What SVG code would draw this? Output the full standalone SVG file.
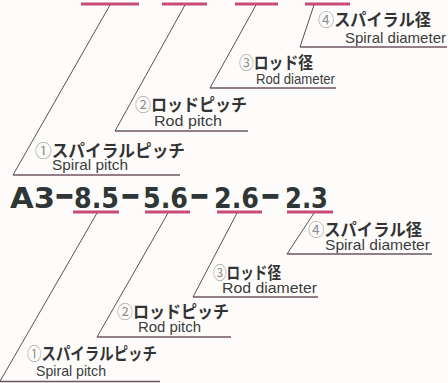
<svg xmlns="http://www.w3.org/2000/svg" width="448" height="383" viewBox="0 0 448 383">
<style>
.bg{fill:#fdfcfb}
.bar{stroke:#c94b76;stroke-width:3;fill:none}
.lead{stroke:#555;stroke-width:1;fill:none}
.ul{stroke:#6e5660;stroke-width:1.3;fill:none}
.jp{font-family:"Noto Sans CJK JP","Noto Sans",sans-serif;font-size:17px;font-weight:bold;fill:#333}
.num{fill:#909090;font-weight:normal}
.en{font-family:"Liberation Sans",Arial,sans-serif;font-size:15px;fill:#3c3c3c}
.code{font-family:"DejaVu Sans","Liberation Sans",sans-serif;font-size:28px;font-weight:bold;fill:#2e3735}
.dash{font-family:"DejaVu Sans","Liberation Sans",sans-serif;font-size:40px;font-weight:bold;fill:#2e3735}
</style>
<rect class="bg" x="0" y="0" width="448" height="383"/>

<g id="top-bars">
<line class="bar" x1="81" y1="4" x2="139" y2="4"/>
<line class="bar" x1="162" y1="4" x2="207" y2="4"/>
<line class="bar" x1="235" y1="4" x2="278" y2="4"/>
<line class="bar" x1="305" y1="4" x2="350" y2="4"/>
</g>

<g id="connectors">
<line class="lead" x1="110" y1="5" x2="13" y2="175"/>
<line class="ul" x1="13" y1="175" x2="180" y2="175"/>
<line class="lead" x1="185" y1="5" x2="115" y2="131"/>
<line class="ul" x1="115" y1="131" x2="248" y2="131"/>
<line class="lead" x1="256" y1="5" x2="210" y2="88"/>
<line class="ul" x1="210" y1="88" x2="336" y2="88"/>
<line class="lead" x1="314" y1="5" x2="300" y2="47"/>
<line class="ul" x1="300" y1="47" x2="447" y2="47"/>
<line class="lead" x1="97" y1="213" x2="-1" y2="383"/>
<line class="ul" x1="0" y1="381.5" x2="160" y2="381.5"/>
<line class="lead" x1="168" y1="213" x2="97" y2="337"/>
<line class="ul" x1="97" y1="337" x2="231" y2="337"/>
<line class="lead" x1="237" y1="213" x2="193" y2="297"/>
<line class="ul" x1="193" y1="297" x2="318" y2="297"/>
<line class="lead" x1="314" y1="213" x2="287" y2="254"/>
<line class="ul" x1="287" y1="254" x2="432" y2="254"/>
</g>

<g id="code">
<text class="code" x="10" y="208" textLength="45" lengthAdjust="spacingAndGlyphs">A3</text>
<text class="dash" x="54" y="209" textLength="21" lengthAdjust="spacingAndGlyphs">−</text>
<text class="code" x="74" y="208" textLength="45" lengthAdjust="spacingAndGlyphs">8.5</text>
<text class="dash" x="120" y="209" textLength="21" lengthAdjust="spacingAndGlyphs">−</text>
<text class="code" x="143" y="208" textLength="45" lengthAdjust="spacingAndGlyphs">5.6</text>
<text class="dash" x="189" y="209" textLength="21" lengthAdjust="spacingAndGlyphs">−</text>
<text class="code" x="214" y="208" textLength="45" lengthAdjust="spacingAndGlyphs">2.6</text>
<text class="dash" x="260" y="209" textLength="21" lengthAdjust="spacingAndGlyphs">−</text>
<text class="code" x="285" y="208" textLength="43" lengthAdjust="spacingAndGlyphs">2.3</text>
<line class="bar" x1="73" y1="212" x2="119" y2="212"/>
<line class="bar" x1="145" y1="212" x2="190" y2="212"/>
<line class="bar" x1="217" y1="212" x2="262" y2="212"/>
<line class="bar" x1="287" y1="212" x2="333" y2="212"/>
</g>

<g id="top-spiral-pitch">
<text class="jp" x="35" y="157" textLength="150" lengthAdjust="spacingAndGlyphs"><tspan class="num">①</tspan>スパイラルピッチ</text>
<text class="en" x="52" y="170" textLength="76" lengthAdjust="spacingAndGlyphs">Spiral pitch</text>
</g>
<g id="top-rod-pitch">
<text class="jp" x="135" y="111" textLength="112" lengthAdjust="spacingAndGlyphs"><tspan class="num">②</tspan>ロッドピッチ</text>
<text class="en" x="154" y="126" textLength="68" lengthAdjust="spacingAndGlyphs">Rod pitch</text>
</g>
<g id="top-rod-diameter">
<text class="jp" x="239" y="69" textLength="74" lengthAdjust="spacingAndGlyphs"><tspan class="num">③</tspan>ロッド径</text>
<text class="en" x="256" y="84" textLength="79" lengthAdjust="spacingAndGlyphs">Rod diameter</text>
</g>
<g id="top-spiral-diameter">
<text class="jp" x="318" y="26" textLength="113" lengthAdjust="spacingAndGlyphs"><tspan class="num">④</tspan>スパイラル径</text>
<text class="en" x="345" y="43" textLength="101" lengthAdjust="spacingAndGlyphs">Spiral diameter</text>
</g>

<g id="bottom-spiral-pitch">
<text class="jp" x="27" y="360" textLength="130" lengthAdjust="spacingAndGlyphs"><tspan class="num">①</tspan>スパイラルピッチ</text>
<text class="en" x="36" y="376" textLength="70" lengthAdjust="spacingAndGlyphs">Spiral pitch</text>
</g>
<g id="bottom-rod-pitch">
<text class="jp" x="117" y="318" textLength="112" lengthAdjust="spacingAndGlyphs"><tspan class="num">②</tspan>ロッドピッチ</text>
<text class="en" x="138" y="332" textLength="63" lengthAdjust="spacingAndGlyphs">Rod pitch</text>
</g>
<g id="bottom-rod-diameter">
<text class="jp" x="213" y="279" textLength="68" lengthAdjust="spacingAndGlyphs"><tspan class="num">③</tspan>ロッド径</text>
<text class="en" x="222" y="293" textLength="95" lengthAdjust="spacingAndGlyphs">Rod diameter</text>
</g>
<g id="bottom-spiral-diameter">
<text class="jp" x="308" y="236" textLength="114" lengthAdjust="spacingAndGlyphs"><tspan class="num">④</tspan>スパイラル径</text>
<text class="en" x="325" y="250" textLength="105" lengthAdjust="spacingAndGlyphs">Spiral diameter</text>
</g>
</svg>
